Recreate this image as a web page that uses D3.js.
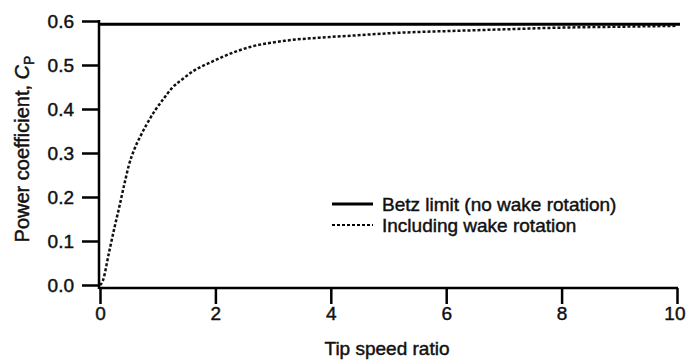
<!DOCTYPE html>
<html lang="en">
<head>
    <meta charset="UTF-8">
    <title>Power coefficient vs tip speed ratio</title>
    <style>
        html,body{
            margin: 0;
            padding: 0;
            background: #fff;
        }
        svg text{
            font-family: "Liberation Sans", Arial, sans-serif;
            fill: #111;
            stroke: #111;
            stroke-width: 0.45px;
        }
    </style>
</head>
<body>
<div id="container"></div>

<script src="https://d3js.org/d3.v7.min.js"></script>
<script>
    // values
    const tipSpeed = [0, 0.05, 0.15, 0.25, 0.33, 0.42, 0.5, 0.6, 0.7, 0.8, 0.95, 1.1, 1.25, 1.45, 1.65, 1.9, 2.15, 2.6, 3.2, 3.8, 4.4, 5.0, 5.5, 6.0, 6.5, 7.0, 8.0, 9.0, 10.0]
    const cpWake = [0, 0.01, 0.07, 0.13, 0.175, 0.228, 0.272, 0.31, 0.338, 0.363, 0.396, 0.423, 0.448, 0.47, 0.489, 0.505, 0.52, 0.541, 0.555, 0.562, 0.567, 0.572, 0.575, 0.577, 0.579, 0.581, 0.585, 0.587, 0.589]
    const betz = 16 / 27
    const xTicks = [0, 2, 4, 6, 8, 10]
    const yTicks = [0, 0.1, 0.2, 0.3, 0.4, 0.5, 0.6]
    const legendLabels = ["Betz limit (no wake rotation)", "Including wake rotation"]

    const [width, height] = [686, 362]
    const svg = d3.select('#container').append('svg')
        .attr('width', width)
        .attr('height', height)

    const x = d3.scaleLinear().domain([0, 10]).range([100, 677])
    const y = d3.scaleLinear().domain([0, 0.6]).range([285, 21])
    const axisY = 288

    // y axis
    const gy = svg.append('g')
        .attr('transform', 'translate(99,0)')
        .call(d3.axisLeft(y).tickValues(yTicks).tickFormat(d3.format('.1f'))
            .tickSize(17).tickPadding(8))
    gy.select('.domain').remove()
    gy.selectAll('.tick line').attr('stroke', '#000').attr('stroke-width', 2.5)
    gy.selectAll('.tick text').style('font-size', '19px').attr('dy', '0.35em')

    // x axis
    const gx = svg.append('g')
        .attr('transform', `translate(0,${axisY})`)
        .call(d3.axisBottom(x).tickValues(xTicks).tickFormat(d3.format('d'))
            .tickSize(16).tickPadding(3))
    gx.select('.domain').remove()
    gx.selectAll('.tick line').attr('stroke', '#000').attr('stroke-width', 2.5)
    gx.selectAll('.tick text').style('font-size', '19px')
    // last label sits at the page edge, pull it in so it stays whole
    gx.selectAll('.tick text').filter(d => d === 10)
        .attr('text-anchor', 'end').attr('x', 8)

    // axis lines
    svg.append('line')
        .attr('x1', 99).attr('x2', 99).attr('y1', y(0.6) - 1).attr('y2', axisY + 1)
        .attr('stroke', '#000').attr('stroke-width', 2.5)
    svg.append('line')
        .attr('x1', 99).attr('x2', x(10) + 1).attr('y1', axisY).attr('y2', axisY)
        .attr('stroke', '#000').attr('stroke-width', 2.5)

    // Betz limit
    svg.append('line')
        .attr('x1', 99).attr('x2', x(10) + 3)
        .attr('y1', y(betz)).attr('y2', y(betz))
        .attr('stroke', '#000').attr('stroke-width', 3)

    // with wake rotation
    const line = d3.line()
        .x((d, i) => x(tipSpeed[i]))
        .y(d => y(d))
        .curve(d3.curveMonotoneX)
    svg.append('path')
        .datum(cpWake)
        .attr('d', line)
        .attr('fill', 'none')
        .attr('stroke', '#111')
        .attr('stroke-width', 2.5)
        .attr('stroke-dasharray', '3,2')

    // legend
    const legend = svg.append('g').attr('transform', 'translate(332,204)')
    legendLabels.forEach((label, i) => {
        const row = legend.append('g').attr('transform', `translate(0,${i * 21})`)
        row.append('line')
            .attr('x1', 0).attr('x2', 41)
            .attr('stroke', '#000')
            .attr('stroke-width', i === 0 ? 3 : 2)
            .attr('stroke-dasharray', i === 0 ? null : '3,2')
        row.append('text')
            .attr('x', 50).attr('dy', '0.35em')
            .style('font-size', '19px')
            .text(label)
    })

    // axis titles
    svg.append('text')
        .attr('x', 387).attr('y', 355)
        .attr('text-anchor', 'middle')
        .style('font-size', '19px')
        .text('Tip speed ratio')

    const yTitle = svg.append('text')
        .attr('transform', 'translate(29,149) rotate(-90)')
        .attr('text-anchor', 'middle')
        .style('font-size', '20px')
    yTitle.append('tspan').text('Power coefficient, ')
    yTitle.append('tspan').style('font-style', 'italic').text('C')
    yTitle.append('tspan').attr('dy', 5).style('font-size', '14px').text('P')
</script>
</body>
</html>
